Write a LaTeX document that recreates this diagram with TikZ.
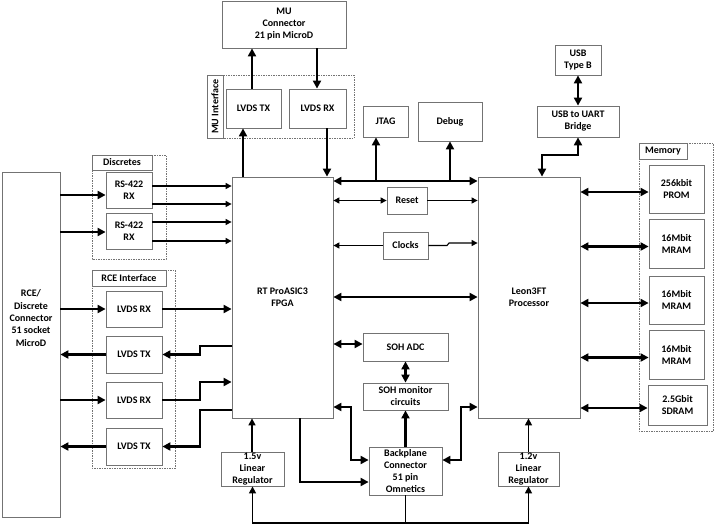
\documentclass[tikz,border=0pt]{standalone}
\usepackage{fontspec}
\setmainfont{Carlito}
\usetikzlibrary{arrows.meta}
\begin{document}
\begin{tikzpicture}[x=1pt,y=-1pt,
  box/.style={draw=black!55, line width=0.8pt, fill=white, font=\bfseries\fontsize{10}{12}\selectfont, align=center, inner sep=0pt},
  sz/.style 2 args={minimum width=#1, minimum height=#2},
  txt/.style={font=\bfseries\fontsize{10}{12.3}\selectfont, align=center, inner sep=0pt},
  grp/.style={draw=black!55, line width=0.6pt, dash pattern=on 1.5pt off 1pt},
  thk/.style={line width=2.3pt, -{Triangle[length=8pt,width=8pt]}},
  thkb/.style={line width=2.3pt, {Triangle[length=8pt,width=8pt]}-{Triangle[length=8pt,width=8pt]}},
  thn/.style={line width=1.1pt, -{Triangle[length=6pt,width=6pt]}},
  thnb/.style={line width=1.1pt, {Triangle[length=6pt,width=6pt]}-{Triangle[length=6pt,width=6pt]}},
  med/.style={line width=1.5pt, -{Triangle[length=7pt,width=7pt]}},
  medl/.style={line width=1.5pt}
]
\useasboundingbox (0,0) rectangle (714,525);

% group frames
\draw[grp] (207,75) rectangle (354,138);
\draw[grp] (92,155) rectangle (166,259);
\draw[grp] (92,270) rectangle (175,468);
\draw[grp] (639,143) rectangle (713,431);

\node[box, rotate=90, sz={63}{16}] (mulbl) at (215,106.5) {MU Interface};
\node[box, sz={60}{15}] (disclbl) at (122,162.5) {Discretes};
\node[box, sz={74}{16}] (rcelbl) at (129,278) {RCE Interface};
\node[box, sz={48}{16}] (memlbl) at (663,151) {Memory};

% boxes
\node[box, sz={124}{47}] (mu) at (284,24.5) {MU\\Connector\\21 pin MicroD};
\node[box, sz={55}{39}] (mutx) at (253.5,108.5) {LVDS TX};
\node[box, sz={57}{39}] (murx) at (317.5,108.5) {LVDS RX};
\node[box, sz={45}{31}] (jtag) at (385.5,121.5) {JTAG};
\node[box, sz={64}{39}] (debug) at (450,121.5) {Debug};
\node[box, sz={46}{30}] (usbb) at (578,60) {USB\\Type B};
\node[box, sz={82}{31}] (bridge) at (578,121.5) {USB to UART\\Bridge};
\node[box, sz={101}{241}] (fpga) at (282.5,297.5) {RT ProASIC3\\FPGA};
\node[box, sz={102}{241}] (leon) at (529,297.5) {Leon3FT\\Processor};
\node[box, sz={40}{27}] (reset) at (407,200.5) {Reset};
\node[box, sz={45}{27}] (clocks) at (405.5,245.5) {Clocks};
\node[box, sz={85}{28}] (sohadc) at (405.5,347) {SOH ADC};
\node[box, sz={85}{27}] (sohmon) at (405.5,396.5) {SOH monitor\\circuits};
\node[box, sz={73}{48}] (backplane) at (405.5,471) {Backplane\\Connector\\51 pin\\Omnetics};
\node[box, sz={63}{34}] (reg15) at (252.5,469) {1.5v\\Linear\\Regulator};
\node[box, sz={61}{34}] (reg12) at (528.5,469) {1.2v\\Linear\\Regulator};
\node[box, sz={58}{345}] (rce) at (31,344.5) {};
\node[txt] (rcetxt) at (31,318) {RCE/\\Discrete\\Connector\\51 socket\\MicroD};
\node[box, sz={46}{36}] (rs1) at (129,190) {RS-422\\RX};
\node[box, sz={46}{36}] (rs2) at (129,231) {RS-422\\RX};
\node[box, sz={56}{36}] (lrx1) at (134,309) {LVDS RX};
\node[box, sz={56}{37}] (ltx1) at (134,354.5) {LVDS TX};
\node[box, sz={56}{36}] (lrx2) at (134,400) {LVDS RX};
\node[box, sz={56}{37}] (ltx2) at (134,446.5) {LVDS TX};
\node[box, sz={55}{48}] (prom) at (676.5,189) {256kbit\\PROM};
\node[box, sz={55}{49}] (mram1) at (676.5,243.5) {16Mbit\\MRAM};
\node[box, sz={55}{48}] (mram2) at (676.5,300) {16Mbit\\MRAM};
\node[box, sz={55}{49}] (mram3) at (676.5,354.5) {16Mbit\\MRAM};
\node[box, sz={59}{40}] (sdram) at (677.5,405) {2.5Gbit\\SDRAM};

% helper coordinates
\coordinate (x252) at (252,0);
\coordinate (x317) at (317,0);
\coordinate (x243) at (243,0);
\coordinate (x327) at (327,0);
\coordinate (x376) at (376,0);
\coordinate (x300) at (300,0);
\coordinate (x542) at (542,0);
\coordinate (y181) at (0,181);
\coordinate (y297) at (0,297);
\coordinate (y344) at (0,344);
\coordinate (y407) at (0,407);
\coordinate (y460) at (0,460);
\coordinate (y482) at (0,482);
\coordinate (y243) at (0,243);
\coordinate (y346) at (0,346);
\coordinate (y382) at (0,382);
\coordinate (y410) at (0,410);
\coordinate (bot) at (405.5,523);

% MU connections
\draw[thk] (mutx.north -| x252) -- (mu.south -| x252);
\draw[thk] (mu.south -| x317) -- (murx.north -| x317);
\draw[thk] (fpga.north -| x243) -- (mutx.south -| x243);
\draw[thk] (murx.south -| x327) -- (fpga.north -| x327);

% FPGA - Leon bus
\draw[thkb] (fpga.east |- y181) -- (leon.west |- y181);
\draw[thk] (x376 |- y181) -- (jtag.south -| x376);
\draw[thk] (debug.south |- y181) -- (debug.south);
\draw[thnb] (fpga.east |- reset.west) -- (reset.west);
\draw[thn] (reset.east) -- (leon.west |- reset.east);
\draw[thn] (clocks.west) -- (fpga.east |- clocks.west);
\draw[thn] (clocks.east) -- (447,245.5) -- (449,243) -- (leon.west |- y243);
\draw[thkb] (fpga.east |- y297) -- (leon.west |- y297);

% SOH and backplane
\draw[thkb] (sohadc.west |- y344) -- (fpga.east |- y344);
\draw[thkb] (sohadc.south) -- (sohmon.north);
\draw[thk] (backplane.north) -- (sohmon.south);
\draw[thkb] (fpga.east |- y407) -- (351,407) -- (351,460) -- (backplane.west |- y460);
\draw[thkb] (backplane.east |- y460) -- (461,460) -- (461,407) -- (leon.west |- y407);
\draw[thk] (fpga.south -| x300) -- (300,482) -- (backplane.west |- y482);

% regulators
\draw[med] (reg15.north -| x252) -- (fpga.south -| x252);
\draw[med] (reg12.north) -- (leon.south -| reg12.north);
\draw[medl] (backplane.south) -- (bot);
\draw[med] (bot) -| (reg15.south);
\draw[med] (bot) -| (reg12.south);

% USB
\draw[thkb] (usbb.south) -- (bridge.north);
\draw[thkb] (bridge.south) -- (578,155) -- (542,155) -- (leon.north -| x542);

% memory
\foreach \m in {prom,mram1,mram2,mram3,sdram}{
  \coordinate (m\m) at ([yshift=-3pt]\m.west);
  \draw[thkb] (leon.east |- m\m) -- (m\m);
}

% discretes
\coordinate (i1) at ([yshift=-5pt]rs1.west);
\coordinate (i2) at ([yshift=-1pt]rs2.west);
\draw[thk] (rce.east |- i1) -- (i1);
\draw[thk] (rce.east |- i2) -- (i2);
\coordinate (o1) at ([yshift=4pt]rs1.east);
\coordinate (o2) at ([yshift=-14pt]rs1.east);
\coordinate (o3) at ([yshift=9pt]rs2.east);
\coordinate (o4) at ([yshift=-10pt]rs2.east);
\foreach \o in {o1,o2,o3,o4}{\draw[thn] (\o) -- (fpga.west |- \o);}

% RCE interface
\draw[thk] (rce.east |- lrx1.west) -- (lrx1.west);
\draw[thk] (lrx1.east) -- (fpga.west |- lrx1.east);
\draw[thk] (ltx1.west) -- (rce.east |- ltx1.west);
\draw[thk] (fpga.west |- y346) -- (200,346) -- (200,354.5) -- (ltx1.east);
\draw[thk] (rce.east |- lrx2.west) -- (lrx2.west);
\draw[thk] (lrx2.east) -- (200,400) -- (200,382) -- (fpga.west |- y382);
\draw[thk] (ltx2.west) -- (rce.east |- ltx2.west);
\draw[thk] (fpga.west |- y410) -- (200,410) -- (200,446.5) -- (ltx2.east);
\end{tikzpicture}
\end{document}
